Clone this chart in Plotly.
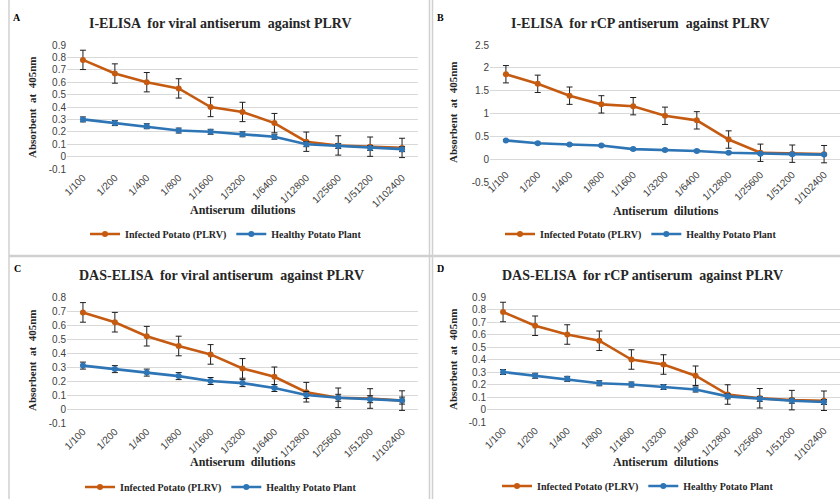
import plotly.graph_objects as go

W, H = 840, 499

dilutions = ["1/100", "1/200", "1/400", "1/800", "1/1600", "1/3200", "1/6400",
             "1/12800", "1/25600", "1/51200", "1/102400"]

series_names = ["Infected Potato (PLRV)", "Healthy Potato Plant"]

# Panel A: I-ELISA viral antiserum
a_infected = [0.78, 0.67, 0.60, 0.55, 0.40, 0.36, 0.27, 0.12, 0.09, 0.08, 0.07]
a_infected_err = [0.078] * 11
a_healthy = [0.30, 0.27, 0.245, 0.21, 0.20, 0.18, 0.16, 0.10, 0.085, 0.07, 0.06]
a_healthy_err = [0.02] * 11

# Panel B: I-ELISA rCP antiserum
b_infected = [1.86, 1.65, 1.39, 1.20, 1.16, 0.95, 0.85, 0.43, 0.14, 0.12, 0.11]
b_infected_err = [0.19] * 11
b_healthy = [0.41, 0.35, 0.32, 0.30, 0.22, 0.20, 0.18, 0.14, 0.12, 0.11, 0.10]
b_healthy_err = [0.02] * 11

# Panel C: DAS-ELISA viral antiserum
c_infected = [0.69, 0.62, 0.52, 0.45, 0.39, 0.29, 0.23, 0.12, 0.08, 0.075, 0.06]
c_infected_err = [0.07] * 11
c_healthy = [0.31, 0.285, 0.26, 0.235, 0.20, 0.185, 0.15, 0.10, 0.08, 0.07, 0.06]
c_healthy_err = [0.025] * 11

# Panel D: DAS-ELISA rCP antiserum
d_infected = [0.78, 0.67, 0.60, 0.55, 0.40, 0.36, 0.27, 0.12, 0.09, 0.075, 0.07]
d_infected_err = [0.078] * 11
d_healthy = [0.30, 0.27, 0.245, 0.21, 0.20, 0.18, 0.16, 0.105, 0.085, 0.07, 0.06]
d_healthy_err = [0.02] * 11

titles = ["I-ELISA  for viral antiserum  against PLRV",
          "I-ELISA  for rCP antiserum  against PLRV",
          "DAS-ELISA  for viral antiserum  against PLRV",
          "DAS-ELISA  for rCP antiserum  against PLRV"]
letters = ["A", "B", "C", "D"]

ticks_small = [-0.1, 0, 0.1, 0.2, 0.3, 0.4, 0.5, 0.6, 0.7, 0.8, 0.9]
ticks_small_text = ["-0.1", "0", "0.1", "0.2", "0.3", "0.4", "0.5", "0.6", "0.7", "0.8", "0.9"]
ticks_c = [-0.1, 0, 0.1, 0.2, 0.3, 0.4, 0.5, 0.6, 0.7, 0.8]
ticks_c_text = ["-0.1", "0", "0.1", "0.2", "0.3", "0.4", "0.5", "0.6", "0.7", "0.8"]
ticks_b = [-0.5, 0, 0.5, 1, 1.5, 2, 2.5]
ticks_b_text = ["-0.5", "0", "0.5", "1", "1.5", "2", "2.5"]

ORANGE = "#C55A11"
BLUE = "#2E75B6"
SERIF = "Liberation Serif"
SANS = "Liberation Sans"


def fx(px):
    return px / W


def fy(py):
    return 1 - py / H


panels = [
    dict(inf=a_infected, inf_e=a_infected_err, hea=a_healthy, hea_e=a_healthy_err,
         xd=(67, 418), yd=(45, 169), yr=(-0.1, 0.9), tv=ticks_small, tt=ticks_small_text,
         xpos=None,
         title_xy=(220, 23), letter_xy=(17, 17), ytitle_xy=(32, 108), xtitle_xy=(243, 210),
         legend_xy=(226, 234)),
    dict(inf=b_infected, inf_e=b_infected_err, hea=b_healthy, hea_e=b_healthy_err,
         xd=(490, 840), yd=(45, 182), yr=(-0.5, 2.5), tv=ticks_b, tt=ticks_b_text,
         xpos=166,
         title_xy=(640, 23), letter_xy=(440, 17), ytitle_xy=(453, 113), xtitle_xy=(666, 211),
         legend_xy=(641, 234)),
    dict(inf=c_infected, inf_e=c_infected_err, hea=c_healthy, hea_e=c_healthy_err,
         xd=(67, 418), yd=(297, 423), yr=(-0.1, 0.8), tv=ticks_c, tt=ticks_c_text,
         xpos=None,
         title_xy=(221, 275), letter_xy=(17, 268), ytitle_xy=(32, 361), xtitle_xy=(243, 462),
         legend_xy=(221, 487)),
    dict(inf=d_infected, inf_e=d_infected_err, hea=d_healthy, hea_e=d_healthy_err,
         xd=(487, 840), yd=(297, 422), yr=(-0.1, 0.9), tv=ticks_small, tt=ticks_small_text,
         xpos=None,
         title_xy=(642, 275), letter_xy=(440, 268), ytitle_xy=(453, 360), xtitle_xy=(666, 462),
         legend_xy=(638, 486)),
]

fig = go.Figure()
layout = dict(width=W, height=H, margin=dict(l=0, r=0, t=0, b=0, autoexpand=False),
              paper_bgcolor="white", plot_bgcolor="white", showlegend=True)
annotations = []
shapes = []

for i, p in enumerate(panels):
    n = "" if i == 0 else str(i + 1)
    xa, ya = "x" + n, "y" + n
    lg = "legend" + n
    for name, vals, errs, col in [(series_names[0], p["inf"], p["inf_e"], ORANGE),
                                  (series_names[1], p["hea"], p["hea_e"], BLUE)]:
        fig.add_trace(go.Scatter(
            x=dilutions, y=vals, name=name, mode="lines+markers",
            line=dict(color=col, width=2.6),
            marker=dict(color=col, size=6, symbol="circle"),
            error_y=dict(type="data", array=errs, visible=True, color="#1f1f1f",
                         thickness=1, width=3),
            xaxis=xa, yaxis=ya, legend=lg))
    xaxis = dict(
        domain=[fx(p["xd"][0]), fx(p["xd"][1])], anchor=ya, type="category",
        range=[-0.5, 10.5], tickangle=-45, showgrid=False, showline=False,
        zeroline=False, ticks="", automargin=False,
        tickfont=dict(family=SANS, size=10, color="#404040"),
        categoryorder="array", categoryarray=dilutions)
    if p["xpos"] is not None:
        xaxis["anchor"] = "free"
        xaxis["position"] = fy(p["xpos"])
    layout["xaxis" + n] = xaxis
    layout["yaxis" + n] = dict(
        domain=[fy(p["yd"][1]), fy(p["yd"][0])], anchor=xa, range=list(p["yr"]),
        tickvals=p["tv"], ticktext=p["tt"], showgrid=True, gridcolor="#d9d9d9",
        gridwidth=1, zeroline=False, showline=False, ticks="", automargin=False,
        tickfont=dict(family=SANS, size=10, color="#404040"))
    layout[lg] = dict(
        x=fx(p["legend_xy"][0]), y=fy(p["legend_xy"][1]), xanchor="center",
        yanchor="middle", orientation="h", bgcolor="rgba(0,0,0,0)",
        font=dict(family=SERIF, size=10, color="#262626", weight="bold"),
        itemwidth=30, tracegroupgap=0)
    annotations.append(dict(
        text="<b>" + titles[i] + "</b>", x=fx(p["title_xy"][0]), y=fy(p["title_xy"][1]),
        xref="paper", yref="paper", xanchor="center", yanchor="middle", showarrow=False,
        font=dict(family=SERIF, size=14, color="#262626")))
    annotations.append(dict(
        text="<b>" + letters[i] + "</b>", x=fx(p["letter_xy"][0]), y=fy(p["letter_xy"][1]),
        xref="paper", yref="paper", xanchor="center", yanchor="middle", showarrow=False,
        font=dict(family=SERIF, size=10, color="black")))
    annotations.append(dict(
        text="<b>Absorbent  at  405nm</b>", x=fx(p["ytitle_xy"][0]), y=fy(p["ytitle_xy"][1]),
        xref="paper", yref="paper", xanchor="center", yanchor="middle", showarrow=False,
        textangle=-90, font=dict(family=SERIF, size=11, color="#262626")))
    annotations.append(dict(
        text="<b>Antiserum  dilutions</b>", x=fx(p["xtitle_xy"][0]), y=fy(p["xtitle_xy"][1]),
        xref="paper", yref="paper", xanchor="center", yanchor="middle", showarrow=False,
        font=dict(family=SERIF, size=12, color="#262626")))

BORDER = "#d0d0d0"
for x0 in [9, 429.5, 432.5]:
    shapes.append(dict(type="line", xref="paper", yref="paper", x0=fx(x0), x1=fx(x0),
                       y0=0, y1=1, line=dict(color=BORDER, width=1.5)))
shapes.append(dict(type="line", xref="paper", yref="paper", x0=fx(9), x1=1,
                   y0=fy(256), y1=fy(256), line=dict(color=BORDER, width=2.5)))

layout["annotations"] = annotations
layout["shapes"] = shapes
fig.update_layout(**layout)
fig.write_html("out.html", config={"displayModeBar": False},
               post_script="document.body.style.margin='0px';document.body.style.overflow='hidden';")
